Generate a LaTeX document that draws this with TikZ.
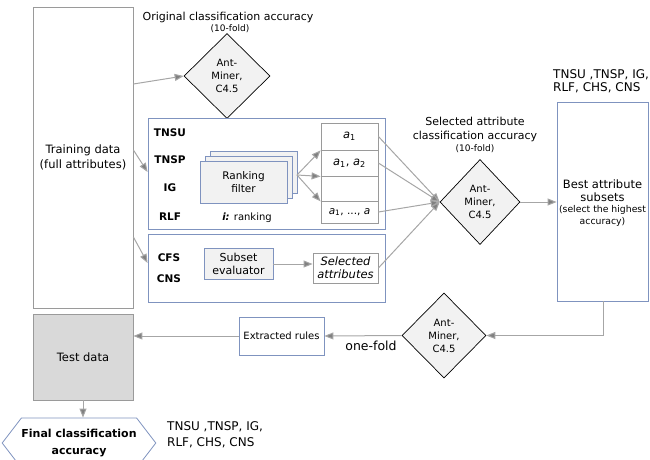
\documentclass[tikz,border=0pt]{standalone}
\usepackage{fontspec}
\setmainfont{DejaVu Sans}
\usetikzlibrary{shapes.geometric,shapes.symbols,arrows.meta}
\definecolor{lgray}{HTML}{A6A6A6}
\definecolor{dgray}{HTML}{808080}
\definecolor{bgray}{HTML}{9A9A9A}
\definecolor{bluebd}{HTML}{7F93BF}
\definecolor{fillg}{HTML}{F2F2F2}
\definecolor{testg}{HTML}{D9D9D9}
\newcommand{\fs}[2]{\fontsize{#1}{#2}\selectfont}
\begin{document}
\begin{tikzpicture}[x=1pt,y=-1pt,
  conn/.style={draw=lgray,line width=1pt,-{Triangle[length=9pt,width=7pt,fill=dgray]}},
  graybox/.style={draw=bgray,line width=0.8pt,inner sep=1pt,align=center},
  bluebox/.style={draw=bluebd,line width=0.8pt,inner sep=1pt,align=center},
  dia/.style={diamond,draw=black,fill=fillg,line width=0.7pt,inner sep=0pt,align=center,
    font=\fs{10}{13}},
  lbl/.style={inner sep=0pt,align=center},
  bl/.style={inner sep=0pt,font=\fs{10.5}{12}\bfseries}
]
\useasboundingbox (0,0) rectangle (650,459);

% left column
\node[graybox,minimum width=100pt,minimum height=301pt,font=\fs{11.5}{14.5}] (train) at (83,157.5) {Training data\\(full attributes)};
\node[graybox,fill=testg,minimum width=100pt,minimum height=86pt,font=\fs{11.5}{14}] (test) at (83,357) {Test data};
\node[signal,signal to=west and east,signal pointer angle=105,draw=bluebd,line width=0.8pt,
  minimum width=150pt,minimum height=50pt,inner sep=0pt,align=center,
  font=\fs{11}{17}\bfseries] (final) at (79,443) {Final classification\\accuracy};
\node[lbl,anchor=west,align=left,font=\fs{12}{16}] (fmeth) at (167,435) {TNSU ,TNSP, IG,\\RLF, CHS, CNS};

% top diamond
\node[lbl,font=\fs{11}{13}] (origt) at (228,17) {Original classification accuracy};
\node[lbl,font=\fs{9}{10}] (origf) at (230,29) {(10-fold)};
\node[dia,minimum width=86pt,minimum height=85pt] (d1) at (227,76) {Ant-\\Miner,\\C4.5};

% blue boxes
\node[bluebox,minimum width=237pt,minimum height=111pt] (b1) at (266.5,173.5) {};
\node[bluebox,minimum width=237pt,minimum height=68pt] (b2) at (266.5,268) {};

\node[bl] (tnsu) at (170,133) {TNSU};
\node[bl] (tnsp) at (170,160) {TNSP};
\node[bl] (ig) at (170,188) {IG};
\node[bl] (rlf) at (170,217) {RLF};
\node[bl] (cfs) at (169,258) {CFS};
\node[bl] (cns) at (169,279) {CNS};

% ranking filter stack
\node[bluebox,fill=fillg,minimum width=87pt,minimum height=42pt] (rk3) at (253.5,172) {};
\node[bluebox,fill=fillg,minimum width=87pt,minimum height=42pt] (rk2) at (248.5,177) {};
\node[bluebox,fill=fillg,minimum width=87pt,minimum height=42pt,font=\fs{10.5}{13}] (rk) at (243.5,182) {Ranking\\filter};
\node[lbl,font=\fs{10}{12}] (irank) at (247,218) {\textbf{\textit{i:}} ranking};
\coordinate (fan) at (297,175);

% attribute rows
\node[graybox,minimum width=57pt,minimum height=27pt,font=\fs{11.5}{13}] (r1) at (349.5,136.5) {\textit{a}\textsubscript{1}};
\node[graybox,minimum width=57pt,minimum height=26pt,font=\fs{11.5}{13}] (r2) at (349.5,163) {\textit{a}\textsubscript{1}, \textit{a}\textsubscript{2}};
\node[graybox,minimum width=57pt,minimum height=25pt] (r3) at (349.5,188.5) {};
\node[graybox,minimum width=57pt,minimum height=22pt,font=\fs{10.5}{12}] (r4) at (349.5,212) {\textit{a}\textsubscript{1}, ..., \textit{a}};

% subset evaluator
\node[bluebox,fill=fillg,minimum width=69pt,minimum height=31pt,inner sep=0pt,font=\fs{11}{13}] (sub) at (238.5,264) {Subset\\evaluator};
\node[graybox,minimum width=65pt,minimum height=30pt,inner sep=0pt,font=\fs{11.5}{13}\itshape] (sel) at (345.5,268) {Selected\\attributes};

% second diamond
\node[lbl,font=\fs{11}{14}] (selt) at (475,129) {Selected attribute\\classification accuracy};
\node[lbl,font=\fs{9}{10}] (self) at (475,149) {(10-fold)};
\node[dia,minimum width=80pt,minimum height=85pt] (d2) at (480,202) {Ant-\\Miner,\\C4.5};

% best box
\node[lbl,anchor=west,align=left,font=\fs{12}{13}] (bmeth) at (553,81.5) {TNSU ,TNSP, IG,\\RLF, CHS, CNS};
\node[bluebox,minimum width=91pt,minimum height=199pt] (best) at (602.5,201.5) {};
\node[lbl,font=\fs{11.5}{13}] (bestt) at (602.5,190.5) {Best attribute\\subsets};
\node[lbl,font=\fs{9.3}{12}] (bests) at (602.5,216) {(select the highest\\accuracy)};

% bottom row
\node[dia,minimum width=84pt,minimum height=85pt] (d3) at (444,335.5) {Ant-\\Miner,\\C4.5};
\node[bluebox,minimum width=85pt,minimum height=38pt,inner sep=0pt,font=\fs{10}{12}] (rule) at (281.5,336) {Extracted rules};
\node[lbl,font=\fs{12.5}{14}] (onef) at (371,346) {one-fold};

% connectors
\draw[conn] (train.east |- 0,84) -- (d1.west);
\draw[conn] (train.east |- 0,150) -- (b1.west |- 0,172);
\draw[conn] (train.east |- 0,237) -- (b2.west |- 0,263);
\draw[conn] (fan) -- (r1.south west);
\draw[conn] (fan) -- (r2.south west);
\draw[conn] (fan) -- (r3.south west);
\draw[conn] (sub.east) -- (sub.east -| sel.west);
\draw[conn] (r1.east) -- (d2.west);
\draw[conn] (r2.east) -- (d2.west);
\draw[conn] (r4.east) -- (d2.west);
\draw[conn] (sel.east) -- (d2.west);
\draw[conn] (d2.east) -- (best.west |- d2.east);
\draw[conn] (best.south -| 603,0) |- (d3.east);
\draw[conn] (d3.west) -- (rule.east);
\draw[conn] (rule.west) -- (test.east |- rule.west);
\draw[conn] (test.south) -- (test.south |- final.north);
\end{tikzpicture}
\end{document}
